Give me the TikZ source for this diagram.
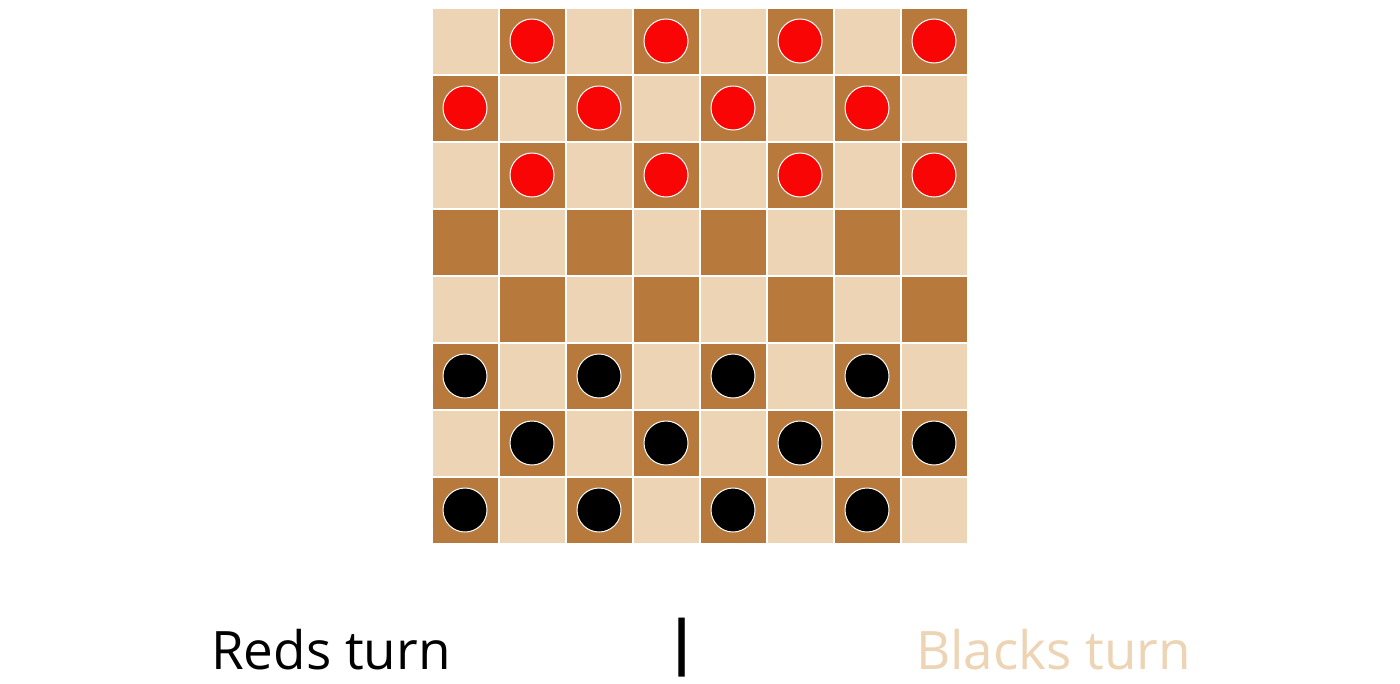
\documentclass[tikz,border=0pt]{standalone}
\usepackage{fontspec}
\setmainfont{Open Sans}
\definecolor{lightsq}{HTML}{EDD4B5}
\definecolor{darksq}{HTML}{B8793D}
\definecolor{redpc}{HTML}{FA0505}
\tikzset{
  sq/.style={minimum size=65pt,inner sep=0pt,outer sep=0pt,draw=none},
  lightcell/.style={sq,fill=lightsq},
  darkcell/.style={sq,fill=darksq},
  piece/.style={circle,minimum size=44pt,inner sep=0pt,draw=white,line width=1pt},
  redpiece/.style={piece,fill=redpc},
  blackpiece/.style={piece,fill=black},
  label/.style={font=\fontsize{53}{58}\selectfont,inner sep=0pt,anchor=base west}
}
\begin{document}
\begin{tikzpicture}[x=1pt,y=-1pt]
\useasboundingbox[fill=white] (0,0) rectangle (1400,683);
\foreach \r in {0,...,7}{
  \foreach \c in {0,...,7}{
    \pgfmathtruncatemacro{\parity}{mod(\r+\c,2)}
    \ifnum\parity=0
      \node[lightcell] (s\r\c) at (465+67*\c,41+67*\r) {};
    \else
      \node[darkcell] (s\r\c) at (465+67*\c,41+67*\r) {};
      \ifnum\r<3
        \node[redpiece] (p\r\c) at (s\r\c.center) {};
      \fi
      \ifnum\r>4
        \node[blackpiece] (p\r\c) at (s\r\c.center) {};
      \fi
    \fi
  }
}
\node[label,text=black] (reds) at (211,669) {Reds turn};
\node[label,text=black,anchor=base,font=\fontsize{60}{64}\selectfont\bfseries] (bar) at (682,663) {|};
\node[label,text=lightsq] (blacks) at (916,669) {Blacks turn};
\end{tikzpicture}
\end{document}
